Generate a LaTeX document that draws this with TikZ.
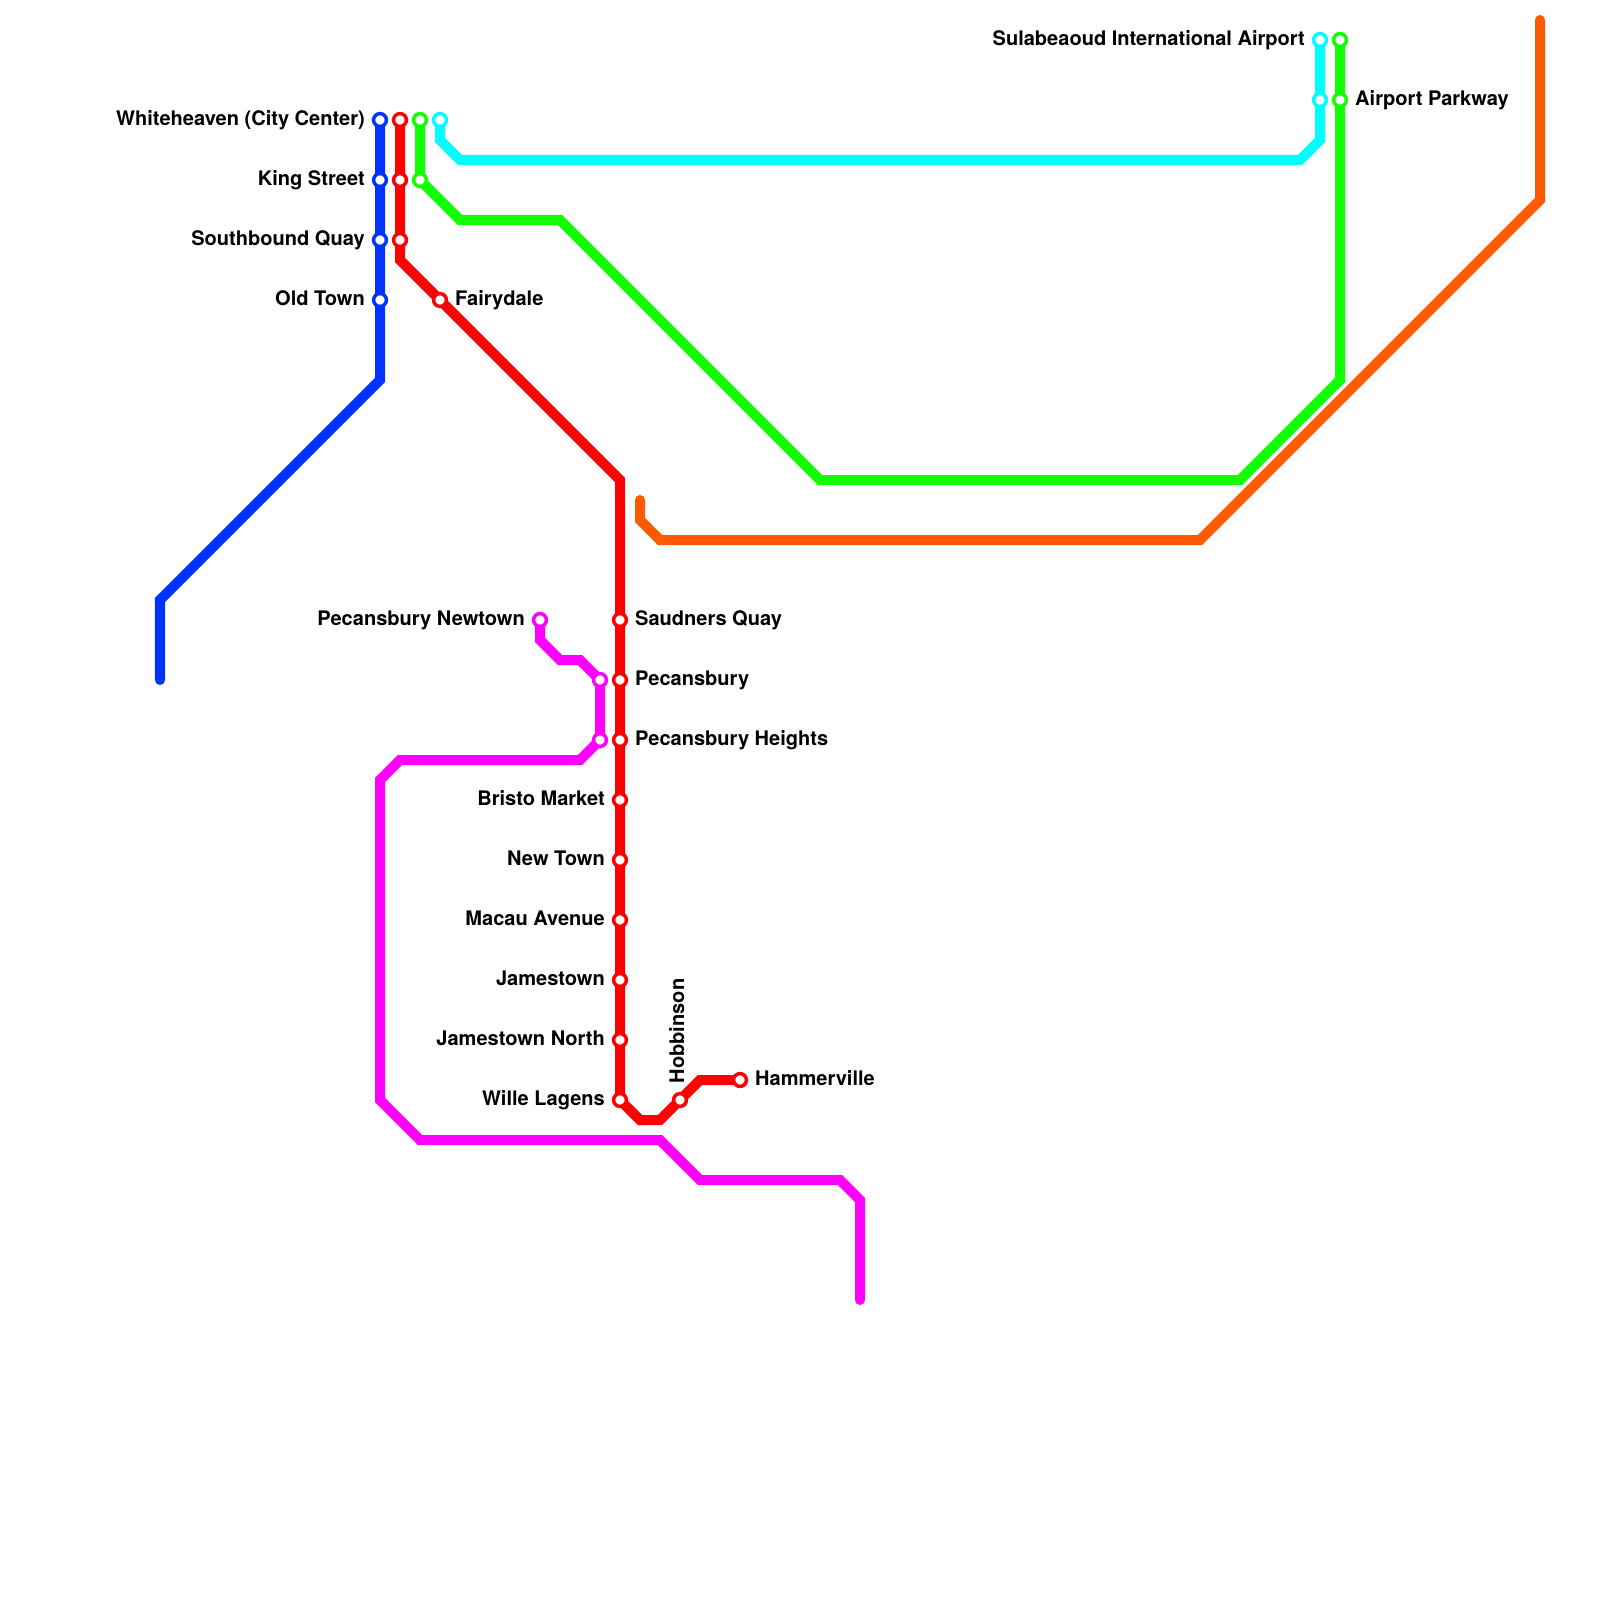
\documentclass[tikz,border=0pt]{standalone}
\usepackage{fontspec}
\setmainfont{TeX Gyre Heros}
\usetikzlibrary{positioning}

\definecolor{lineBlue}{RGB}{0,51,255}
\definecolor{lineRed}{RGB}{255,0,0}
\definecolor{lineGreen}{RGB}{17,255,0}
\definecolor{lineCyan}{RGB}{0,255,255}
\definecolor{lineOrange}{RGB}{255,90,0}
\definecolor{lineMagenta}{RGB}{255,0,255}

\begin{document}
\begin{tikzpicture}[
    x=0.01cm, y=-0.01cm,
    every node/.style={font=\fontsize{5.7pt}{6.8pt}\selectfont\bfseries},
    metro/.style={line width=0.1cm, line cap=round, line join=miter},
    stop/.style={circle, fill=white, draw=#1, line width=0.035cm,
        minimum size=0.128cm, inner sep=0pt},
    namelbl/.style={inner sep=0pt, text height=4.1pt, text depth=0pt, yshift=0.02cm},
]
\useasboundingbox (0,0) rectangle (1600,1600);

% === Lines ===
\draw[metro, lineBlue] (160,680) -- (160,600) -- (380,380) -- (380,120);
\draw[metro, lineMagenta] (540,620) -- (540,640) -- (560,660) -- (580,660) -- (600,680)
    -- (600,740) -- (580,760) -- (400,760) -- (380,780) -- (380,1100) -- (420,1140)
    -- (660,1140) -- (700,1180) -- (840,1180) -- (860,1200) -- (860,1300);
\draw[metro, lineOrange] (640,500) -- (640,520) -- (660,540) -- (1200,540)
    -- (1540,200) -- (1540,20);
\draw[metro, lineGreen] (420,120) -- (420,180) -- (460,220) -- (560,220) -- (820,480)
    -- (1240,480) -- (1340,380) -- (1340,40);
\draw[metro, lineCyan] (440,120) -- (440,140) -- (460,160) -- (1300,160) -- (1320,140)
    -- (1320,40);
\draw[metro, lineRed] (400,120) -- (400,260) -- (620,480) -- (620,1100) -- (640,1120)
    -- (660,1120) -- (700,1080) -- (740,1080);

% === Stations with a label on the left ===
\foreach \nm/\cx/\cy/\col/\txt in {
    white/380/120/lineBlue/Whiteheaven (City Center),
    king/380/180/lineBlue/King Street,
    south/380/240/lineBlue/Southbound Quay,
    old/380/300/lineBlue/Old Town,
    newtown/540/620/lineMagenta/Pecansbury Newtown,
    bristo/620/800/lineRed/Bristo Market,
    newt/620/860/lineRed/New Town,
    macau/620/920/lineRed/Macau Avenue,
    james/620/980/lineRed/Jamestown,
    jamesn/620/1040/lineRed/Jamestown North,
    wille/620/1100/lineRed/Wille Lagens,
    sula/1320/40/lineCyan/Sulabeaoud International Airport} {
    \node[stop=\col] (\nm) at (\cx,\cy) {};
    \node[namelbl, left=0.145cm of \nm.center] (\nm lbl) {\txt};
}

% === Stations with a label on the right ===
\foreach \nm/\cx/\cy/\col/\txt in {
    fairy/440/300/lineRed/Fairydale,
    saud/620/620/lineRed/Saudners Quay,
    pecan/620/680/lineRed/Pecansbury,
    heights/620/740/lineRed/Pecansbury Heights,
    hammer/740/1080/lineRed/Hammerville,
    parkway/1340/100/lineGreen/Airport Parkway} {
    \node[stop=\col] (\nm) at (\cx,\cy) {};
    \node[namelbl, right=0.145cm of \nm.center] (\nm lbl) {\txt};
}

% === Stations with no label ===
\foreach \nm/\cx/\cy/\col in {
    redA/400/120/lineRed, redB/400/180/lineRed, redC/400/240/lineRed,
    greenA/420/120/lineGreen, greenB/420/180/lineGreen, greenC/1340/40/lineGreen,
    cyanA/440/120/lineCyan, cyanB/1320/100/lineCyan,
    magA/600/680/lineMagenta, magB/600/740/lineMagenta} {
    \node[stop=\col] (\nm) at (\cx,\cy) {};
}

% Hobbinson reads upward
\node[stop=lineRed] (hobb) at (680,1100) {};
\node[inner sep=0pt, text height=4.1pt, text depth=0pt, rotate=90, anchor=west]
    (hobb lbl) at (677,1084) {Hobbinson};

\end{tikzpicture}
\end{document}
